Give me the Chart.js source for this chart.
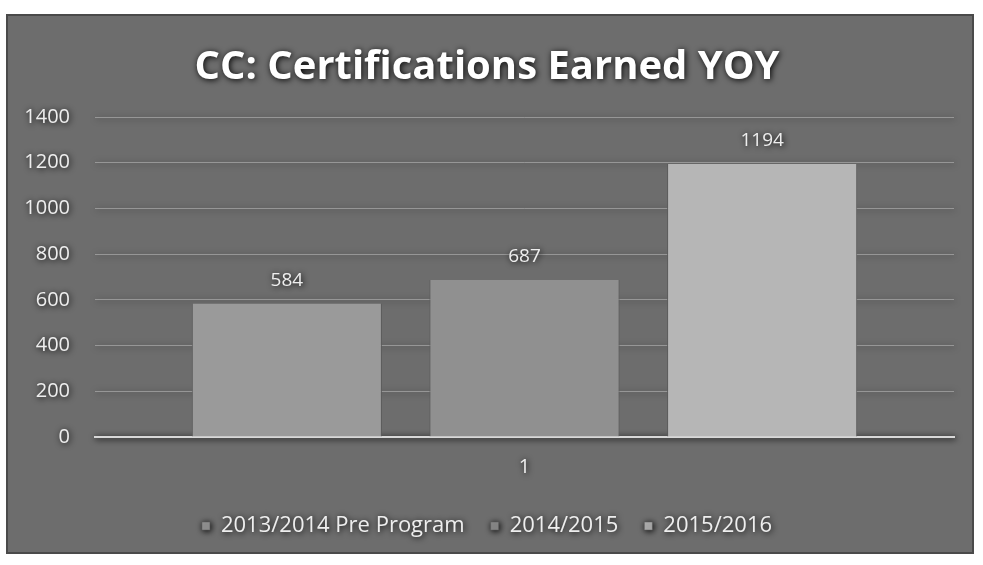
<!DOCTYPE html>
<html>
<head>
<meta charset="utf-8">
<script src="https://cdn.jsdelivr.net/npm/chart.js@4"></script>
<style>
  html, body { margin: 0; padding: 0; background: #fff; }
  #box { position: absolute; left: 6px; top: 14px; width: 968px; height: 540px; background: #6d6d6d; border: 2px solid #4a4a4a; box-sizing: border-box; }
  canvas { display: block; }
</style>
</head>
<body>
<div id="box"><canvas id="chart" width="964" height="536"></canvas></div>
<script>
const categories = ["1"];
const seriesNames = ["2013/2014 Pre Program", "2014/2015", "2015/2016"];
const seriesValues = [[584], [687], [1194]];
const seriesColors = ["#9a9a9a", "#909090", "#b6b6b6"];
const yTicks = [0, 200, 400, 600, 800, 1000, 1200, 1400];

function setShadow(ctx) {
  ctx.shadowColor = "rgba(0,0,0,1)";
  ctx.shadowBlur = 6;
  ctx.shadowOffsetX = 1;
  ctx.shadowOffsetY = 1;
}
function clearShadow(ctx) {
  ctx.shadowColor = "rgba(0,0,0,0)";
  ctx.shadowBlur = 0;
  ctx.shadowOffsetX = 0;
  ctx.shadowOffsetY = 0;
}

// dark glow behind the white texts, like the original
const textShadow = {
  id: "textShadow",
  beforeDraw(chart) { setShadow(chart.ctx); },
  beforeDatasetsDraw(chart) { clearShadow(chart.ctx); },
  afterDatasetsDraw(chart) {
    const ctx = chart.ctx;
    ctx.save();
    setShadow(ctx);
    ctx.fillStyle = "#eeeeee";
    ctx.font = "19px 'Open Sans'";
    ctx.textAlign = "center";
    ctx.textBaseline = "middle";
    chart.data.datasets.forEach((ds, i) => {
      chart.getDatasetMeta(i).data.forEach((bar, j) => {
        ctx.fillText(ds.data[j], bar.x, bar.y - 23);
      });
    });
    ctx.restore();
    setShadow(ctx);
  }
};

new Chart(document.querySelector("#chart"), {
  type: "bar",
  data: {
    labels: categories,
    datasets: seriesNames.map((name, i) => ({
      label: name,
      data: seriesValues[i],
      backgroundColor: seriesColors[i],
      borderColor: "#5a5a5a",
      borderWidth: { left: 1, right: 1, top: 0, bottom: 0 },
      barPercentage: 0.8,
      categoryPercentage: 0.83
    }))
  },
  options: {
    responsive: false,
    animation: false,
    layout: { padding: { left: 12, right: 18, top: 14, bottom: 5 } },
    plugins: {
      title: {
        display: true,
        text: "CC: Certifications Earned YOY",
        color: "#ffffff",
        font: { family: "Open Sans", size: 40, weight: "bold" },
        padding: { top: 14, bottom: 25 }
      },
      legend: {
        position: "bottom",
        labels: {
          color: "#eeeeee",
          font: { family: "Open Sans", size: 22 },
          usePointStyle: true,
          pointStyle: "rect",
          boxWidth: 8,
          boxHeight: 8,
          padding: 26
        }
      },
      tooltip: { enabled: false }
    },
    scales: {
      x: {
        grid: { display: false },
        border: { color: "#d8d8d8", width: 2 },
        ticks: { color: "#eeeeee", font: { family: "Open Sans", size: 20 }, padding: 10 }
      },
      y: {
        min: 0,
        max: 1400,
        afterBuildTicks(axis) { axis.ticks = yTicks.map((v) => ({ value: v })); },
        afterFit(axis) { axis.width = 75; },
        grid: { color: "rgba(190,190,190,0.55)", lineWidth: 1, drawTicks: false },
        border: { display: false },
        ticks: {
          color: "#eeeeee",
          font: { family: "Open Sans", size: 20 },
          padding: 25,
          callback: (value) => String(value)
        }
      }
    }
  },
  plugins: [textShadow]
});
</script>
</body>
</html>
